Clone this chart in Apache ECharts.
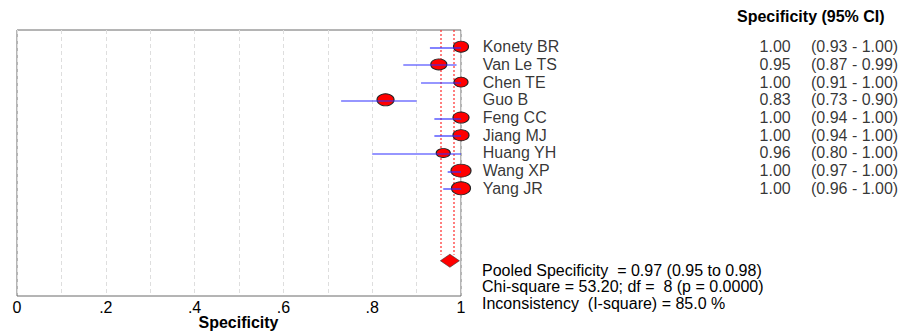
<!DOCTYPE html>
<html><head><meta charset="utf-8">
<style>html,body{margin:0;padding:0;background:#fff}#c{width:903px;height:331px}</style>
<script src="https://cdn.jsdelivr.net/npm/echarts@6/dist/echarts.min.js"></script>
</head><body><div id="c"></div>
<script>
const studies = ['Konety BR','Van Le TS','Chen TE','Guo B','Feng CC','Jiang MJ','Huang YH','Wang XP','Yang JR'];
const spec   = [1.00, 0.95, 1.00, 0.83, 1.00, 1.00, 0.96, 1.00, 1.00];
const ciLow  = [0.93, 0.87, 0.91, 0.73, 0.94, 0.94, 0.80, 0.97, 0.96];
const ciHigh = [1.00, 0.99, 1.00, 0.90, 1.00, 1.00, 1.00, 1.00, 1.00];
const markerSize = [[15,11],[16,11],[14,10],[17,12],[16,11],[16,11],[14,9],[20,13],[19,13]];
const pooled = 0.975, pooledLow = 0.956, pooledHigh = 0.984;
const xTicks = ['0','.2','.4','.6','.8','1'];
const headerText = 'Specificity (95% CI)';
const pooledLines = ['Pooled Specificity  = 0.97 (0.95 to 0.98)','Chi-square = 53.20; df =  8 (p = 0.0000)','Inconsistency  (I-square) = 85.0 %'];
const axisName = 'Specificity';

const FONT = '"Liberation Sans", Arial, sans-serif';
const yMin = -0.943, yMax = 14.08, pooledRow = 12.09, pooledTop = 11.75;
const fmt = v => v.toFixed(2);

const chart = echarts.init(document.getElementById('c'), null, {renderer:'svg'});
chart.setOption({
  animation:false,
  grid:[
    {left:17, right:442, top:30, bottom:35, show:true, borderColor:'#6a6a6a', borderWidth:1,
     backgroundColor:'transparent', containLabel:false, outerBoundsMode:'none'},
    {left:470, right:0, top:30, bottom:35, containLabel:false, outerBoundsMode:'none'}
  ],
  xAxis:[
    {type:'value', gridIndex:0, min:0, max:1, interval:0.1,
     axisLine:{show:false}, axisTick:{show:false},
     axisLabel:{fontFamily:FONT, fontSize:16, color:'#000', margin:3,
       formatter:v=>{const k=Math.round(v*10); return k%2?'':xTicks[k/2];}},
     splitLine:{show:true, lineStyle:{color:'#dedede', type:[4,3], width:1}}},
    {type:'value', gridIndex:1, min:0, max:433, show:false}
  ],
  yAxis:[
    {type:'value', gridIndex:0, min:yMin, max:yMax, inverse:true, show:false, splitLine:{show:false}},
    {type:'value', gridIndex:1, min:yMin, max:yMax, inverse:true, show:false, splitLine:{show:false}}
  ],
  series:[
    {type:'custom', xAxisIndex:0, yAxisIndex:0, clip:false, z:2, silent:true,
     data:[[pooledLow],[pooledHigh]],
     renderItem:(params,api)=>{
       const a=api.coord([api.value(0),yMin]), b=api.coord([api.value(0),pooledTop]);
       const x=Math.round(a[0]);
       return {type:'line', shape:{x1:x,y1:a[1],x2:x,y2:b[1]}, style:{stroke:'#ff2a2a', lineWidth:1.2, lineDash:[2,2]}};
     }},
    {type:'scatter', xAxisIndex:0, yAxisIndex:0, clip:false, z:3,
     data:spec.map((v,i)=>[v,i]),
     symbol:'circle', symbolSize:(val,p)=>markerSize[p.dataIndex],
     itemStyle:{color:'#ff0000', borderColor:'#222', borderWidth:1, opacity:1}},
    {type:'custom', xAxisIndex:0, yAxisIndex:0, clip:false, z:4, silent:true,
     data:ciLow.map((v,i)=>[v,ciHigh[i],i]),
     renderItem:(params,api)=>{
       const a=api.coord([api.value(0),api.value(2)]), b=api.coord([api.value(1),api.value(2)]);
       const y=Math.round(a[1])+1;
       return {type:'line', shape:{x1:a[0],y1:y,x2:b[0],y2:y}, style:{stroke:'#2f2fff', lineWidth:1.2}};
     }},
    {type:'scatter', xAxisIndex:0, yAxisIndex:0, clip:false, z:5,
     data:[[pooled,pooledRow]], symbol:'diamond', symbolSize:[19,13],
     itemStyle:{color:'#ff0000', borderColor:'#333', borderWidth:0.6, opacity:1}},
    {type:'scatter', xAxisIndex:1, yAxisIndex:1, symbolSize:0, silent:true,
     data:studies.map((s,i)=>({value:[12.7,i], name:s})),
     label:{show:true, position:[0,0], align:'left', verticalAlign:'middle', formatter:p=>p.name,
       fontFamily:FONT, fontSize:16, color:'#000'}},
    {type:'scatter', xAxisIndex:1, yAxisIndex:1, symbolSize:0, silent:true,
     data:spec.map((v,i)=>({value:[320.7,i], name:fmt(v)})),
     label:{show:true, position:[0,0], align:'right', verticalAlign:'middle', formatter:p=>p.name,
       fontFamily:FONT, fontSize:16, color:'#000'}},
    {type:'scatter', xAxisIndex:1, yAxisIndex:1, symbolSize:0, silent:true,
     data:ciLow.map((v,i)=>({value:[341,i], name:'('+fmt(v)+' - '+fmt(ciHigh[i])+')'})),
     label:{show:true, position:[0,0], align:'left', verticalAlign:'middle', formatter:p=>p.name,
       fontFamily:FONT, fontSize:16, color:'#000'}}
  ],
  graphic:[
    {type:'text', x:238.5, y:314, style:{text:axisName, font:'bold 16px '+FONT, fill:'#000', align:'center', verticalAlign:'top'}},
    {type:'text', left:737, top:8, style:{text:headerText, font:'bold 16px '+FONT, fill:'#000'}},
    {type:'text', left:482, top:262, style:{text:pooledLines[0], font:'16px '+FONT, fill:'#000'}},
    {type:'text', left:482, top:278, style:{text:pooledLines[1], font:'16px '+FONT, fill:'#000'}},
    {type:'text', left:482, top:295, style:{text:pooledLines[2], font:'16px '+FONT, fill:'#000'}}
  ]
});
</script></body></html>
